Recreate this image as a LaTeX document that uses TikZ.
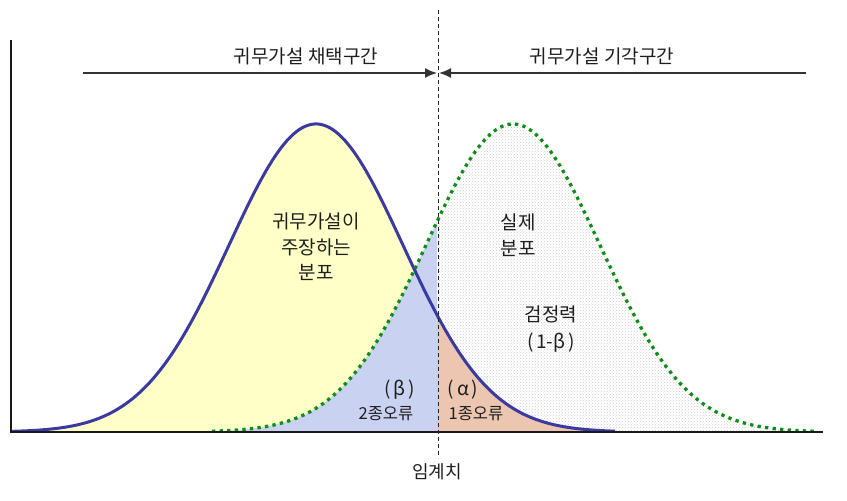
\documentclass[tikz,border=0pt]{standalone}
\usepackage{fontspec}
\setmainfont{Noto Sans CJK KR}
\usetikzlibrary{arrows.meta,patterns}
\definecolor{nullblue}{RGB}{58,58,160}
\definecolor{altgreen}{RGB}{16,140,24}
\definecolor{accyellow}{RGB}{255,255,200}
\definecolor{betablue}{RGB}{202,210,242}
\definecolor{alphared}{RGB}{236,198,176}
\definecolor{txt}{RGB}{30,30,30}
\begin{document}
\begin{tikzpicture}[x=1pt,y=-1pt,
  declare function={nb(\t)=432-308*exp(-0.5*((\t-316)/87)^2);
                    ng(\t)=432-308*exp(-0.5*((\t-513)/87)^2);},
  lab/.style={inner sep=0pt, text=txt, font=\fontsize{19}{25.5}\selectfont, align=center},
  small/.style={inner sep=0pt, text=txt, font=\fontsize{16.5}{18}\selectfont},
  rangearrow/.style={line width=1.6pt, black!80, -{Latex[length=12pt,width=10pt]}}]
\useasboundingbox (0,0) rectangle (847,501);
% fills
\fill[accyellow] (11,432) -- plot[domain=11:615,samples=150] (\x,{nb(\x)}) -- (615,432) -- cycle;
\fill[betablue] (212,432) -- plot[domain=212:437,samples=80] (\x,{ng(\x)}) -- (437,432) -- cycle;
\fill[pattern=crosshatch dots, pattern color=gray!40] (437,432) -- plot[domain=437:815,samples=120] (\x,{ng(\x)}) -- (815,432) -- cycle;
\fill[alphared] (437,432) -- plot[domain=437:615,samples=80] (\x,{nb(\x)}) -- (615,432) -- cycle;
% curves
\draw[nullblue, line width=3pt] plot[domain=11:615,samples=200] (\x,{nb(\x)});
\draw[altgreen, line width=3.3pt, dash pattern=on 3.3pt off 4.3pt] plot[domain=212:815,samples=200] (\x,{ng(\x)});
% axes
\coordinate (ytop) at (11,40);
\coordinate (o) at (11,432);
\coordinate (xend) at (823,432);
\draw[line width=2.6pt, black!90] (ytop) -- (o) -- (xend);
% critical value line
\coordinate (ct) at (438,10);
\coordinate (cb) at (438,458);
\draw[line width=1pt, dash pattern=on 4pt off 3pt, black!85] (ct) -- (cb);
% range arrows
\coordinate (al) at (83,73);
\coordinate (am1) at (437,73);
\coordinate (ar) at (806,73);
\coordinate (am2) at (439,73);
\draw[rangearrow] (al) -- (am1);
\draw[rangearrow] (ar) -- (am2);
% labels
\node[lab] (acc) at (306,56) {귀무가설 채택구간};
\node[lab] (rej) at (602,56) {귀무가설 기각구간};
\node[lab] (h0) at (316,247) {귀무가설이\\주장하는\\분포};
\node[lab] (real) at (518,235) {실제\\분포};
\node[lab, font=\fontsize{19}{27}\selectfont] (power) at (551,329) {검정력\\(\hspace{2.5pt}1-β\hspace{2.5pt})};
\node[lab] (beta) at (400,390) {(\hspace{3pt}β\hspace{3pt})};
\node[small] (e2) at (386,414) {2종오류};
\node[lab] (alpha) at (463,390) {(\hspace{3pt}α\hspace{3pt})};
\node[small] (e1) at (476,414) {1종오류};
\node[lab, font=\fontsize{18}{20}\selectfont] (crit) at (437,472) {임계치};
\end{tikzpicture}
\end{document}
